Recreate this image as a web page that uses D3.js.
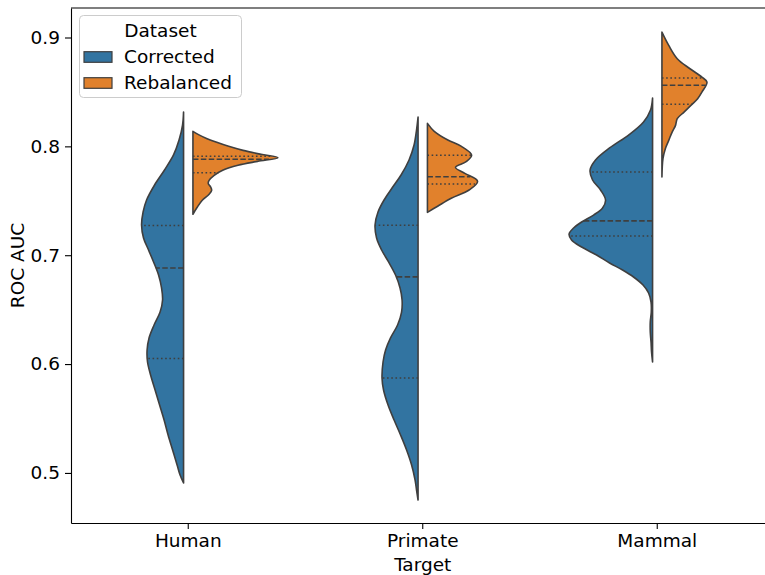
<!DOCTYPE html>
<html>
<head>
<meta charset="utf-8">
<script src="https://cdn.jsdelivr.net/npm/d3@7"></script>
<style>
  html, body { margin: 0; padding: 0; background: #fff; }
  svg { display: block; font-family: "DejaVu Sans", sans-serif; }
</style>
</head>
<body>
<svg id="chart" width="765" height="575"></svg>
<script>
// ---------- data ----------
const categories = ["Human", "Primate", "Mammal"];
const hues = ["Corrected", "Rebalanced"];
const hueColors = ["#3274a1", "#e1812c"];
const yTicks = [0.5, 0.6, 0.7, 0.8, 0.9];

// density profiles: values (ROC AUC) and relative density
const humanCorrectedValues = [0.8316, 0.8196, 0.8058, 0.7921, 0.7783, 0.7645, 0.7507, 0.7397, 0.7278, 0.7158, 0.7048, 0.6938, 0.6818, 0.6699, 0.6589, 0.6478, 0.6359, 0.624, 0.6129, 0.6019, 0.59, 0.5762, 0.5624, 0.5486, 0.5349, 0.5211, 0.5073, 0.4981, 0.4908];
const humanCorrectedDensity = [0, .012, .053, .118, .224, .341, .435, .476, .494, .471, .412, .353, .294, .259, .247, .276, .347, .406, .429, .424, .388, .335, .282, .229, .182, .129, .076, .041, 0];
const humanCorrectedQuartiles = [0.6051, 0.6883, 0.7273];

const humanRebalancedValues = [0.8138, 0.811, 0.8073, 0.8037, 0.8, 0.7963, 0.7927, 0.7896, 0.7862, 0.7826, 0.778, 0.7734, 0.7688, 0.766, 0.7624, 0.7596, 0.756, 0.7505, 0.744, 0.7376];
const humanRebalancedDensity = [0, .06, .16, .28, .42, .59, .8, 1.0, .76, .53, .35, .25, .19, .18, .21, .22, .19, .11, .05, 0];
const humanRebalancedQuartiles = [0.7758, 0.7881, 0.7909];

const primateCorrectedValues = [0.827, 0.815, 0.8012, 0.7875, 0.7737, 0.7617, 0.7507, 0.7397, 0.7278, 0.7158, 0.7048, 0.6938, 0.6818, 0.6699, 0.6589, 0.6478, 0.6359, 0.624, 0.6129, 0.6019, 0.5872, 0.5762, 0.5624, 0.5486, 0.5349, 0.5211, 0.5073, 0.4935, 0.4843, 0.4751];
const primateCorrectedDensity = [0, .018, .047, .106, .2, .306, .4, .471, .506, .488, .429, .347, .265, .212, .188, .194, .241, .324, .382, .412, .424, .406, .353, .282, .206, .135, .076, .035, .018, 0];
const primateCorrectedQuartiles = [0.5872, 0.6801, 0.7275];

const primateRebalancedValues = [0.8211, 0.8138, 0.8058, 0.8, 0.792, 0.7862, 0.7807, 0.7752, 0.7679, 0.7599, 0.7523, 0.745, 0.7394];
const primateRebalancedDensity = [0, .08, .24, .4, .52, .46, .33, .44, .59, .49, .28, .12, 0];
const primateRebalancedQuartiles = [0.7654, 0.7721, 0.7918];

const mammalCorrectedValues = [0.8444, 0.8334, 0.8224, 0.8104, 0.7985, 0.7875, 0.7783, 0.7691, 0.7599, 0.7507, 0.7434, 0.7369, 0.7305, 0.725, 0.7195, 0.714, 0.7075, 0.7002, 0.6929, 0.6864, 0.68, 0.6726, 0.6653, 0.657, 0.6478, 0.6387, 0.6295, 0.6203, 0.6111, 0.6019];
const mammalCorrectedDensity = [0, .024, .106, .282, .506, .671, .735, .706, .612, .553, .588, .694, .835, .929, .982, .953, .835, .659, .506, .353, .224, .112, .047, .018, .015, .027, .027, .018, .012, 0];
const mammalCorrectedQuartiles = [0.7177, 0.7315, 0.7764];

const mammalRebalancedValues = [0.9049, 0.8927, 0.8805, 0.8713, 0.8636, 0.859, 0.8498, 0.8438, 0.8383, 0.8315, 0.8254, 0.8193, 0.8131, 0.8055, 0.7979, 0.7887, 0.7718];
const mammalRebalancedDensity = [0, .08, .18, .33, .47, .53, .47, .42, .35, .26, .18, .16, .12, .08, .04, .012, 0];
const mammalRebalancedQuartiles = [0.8387, 0.8562, 0.8628];

const violins = [
  { cat: "Human", hue: 0, values: humanCorrectedValues, density: humanCorrectedDensity, quart: humanCorrectedQuartiles },
  { cat: "Human", hue: 1, values: humanRebalancedValues, density: humanRebalancedDensity, quart: humanRebalancedQuartiles },
  { cat: "Primate", hue: 0, values: primateCorrectedValues, density: primateCorrectedDensity, quart: primateCorrectedQuartiles },
  { cat: "Primate", hue: 1, values: primateRebalancedValues, density: primateRebalancedDensity, quart: primateRebalancedQuartiles },
  { cat: "Mammal", hue: 0, values: mammalCorrectedValues, density: mammalCorrectedDensity, quart: mammalCorrectedQuartiles },
  { cat: "Mammal", hue: 1, values: mammalRebalancedValues, density: mammalRebalancedDensity, quart: mammalRebalancedQuartiles }
];

// ---------- layout ----------
const svg = d3.select("#chart");
const plotLeft = 71, plotRight = 774.5, plotTop = 8, plotBottom = 523;
const fontSize = 18.5;
const lineColor = "#3f3f3f";

const x = d3.scaleBand().domain(categories).range([plotLeft, plotRight]).padding(0);
const y = d3.scaleLinear().domain([0.454, 0.9271]).range([plotBottom, plotTop]);
const w = d3.scaleLinear().domain([0, 1]).range([0, x.bandwidth() * 0.3625]);
const gap = x.bandwidth() * 0.02;

const plot = svg.append("g");

violins.forEach(v => {
  const cx = x(v.cat) + x.bandwidth() / 2;
  const dir = v.hue === 0 ? -1 : 1;
  const edge = cx + dir * gap;
  const pts = v.values.map((val, i) => ({ val, d: v.density[i] }));
  const area = d3.area()
    .y(p => y(p.val))
    .x0(() => edge)
    .x1(p => edge + dir * w(p.d))
    .curve(d3.curveCatmullRom.alpha(0.5));
  plot.append("path")
    .attr("d", area(pts))
    .attr("fill", hueColors[v.hue])
    .attr("stroke", lineColor)
    .attr("stroke-width", 1.6)
    .attr("stroke-linejoin", "round");

  const dens = val => {
    for (let i = 0; i < pts.length - 1; i++) {
      const a = pts[i], b = pts[i + 1];
      if (val <= a.val && val >= b.val) {
        const t = (a.val - val) / (a.val - b.val);
        return a.d + t * (b.d - a.d);
      }
    }
    return 0;
  };
  v.quart.forEach((q, qi) => {
    plot.append("line")
      .attr("x1", edge)
      .attr("x2", edge + dir * w(dens(q)))
      .attr("y1", y(q)).attr("y2", y(q))
      .attr("stroke", lineColor)
      .attr("stroke-width", 1.6)
      .attr("stroke-dasharray", qi === 1 ? "5.5,2.4" : "1.6,2.6");
  });
});

// ---------- axes ----------
const xAxis = svg.append("g")
  .attr("transform", `translate(0,${plotBottom})`)
  .call(d3.axisBottom(x).tickSize(6).tickSizeOuter(0).tickPadding(5));
const yAxis = svg.append("g")
  .attr("transform", `translate(${plotLeft},0)`)
  .call(d3.axisLeft(y).tickValues(yTicks).tickFormat(d3.format(".1f")).tickSize(6).tickSizeOuter(0).tickPadding(5));

[xAxis, yAxis].forEach(g => {
  g.selectAll("text").attr("font-size", fontSize).attr("font-family", "DejaVu Sans").attr("fill", "#000");
  g.selectAll("line").attr("stroke", "#000").attr("stroke-width", 1.1);
  g.select(".domain").attr("stroke", "#000").attr("stroke-width", 1.1);
});

// top and right spines
svg.append("line").attr("x1", plotLeft).attr("x2", plotRight).attr("y1", plotTop).attr("y2", plotTop)
  .attr("stroke", "#000").attr("stroke-width", 1.1);
svg.append("line").attr("x1", plotRight).attr("x2", plotRight).attr("y1", plotTop).attr("y2", plotBottom)
  .attr("stroke", "#000").attr("stroke-width", 1.1);

// axis labels
svg.append("text")
  .attr("x", x("Primate") + x.bandwidth() / 2)
  .attr("y", 571)
  .attr("text-anchor", "middle")
  .attr("font-size", fontSize)
  .text("Target");
svg.append("text")
  .attr("transform", `translate(24,${(plotTop + plotBottom) / 2}) rotate(-90)`)
  .attr("text-anchor", "middle")
  .attr("font-size", fontSize)
  .text("ROC AUC");

// ---------- legend ----------
const lg = svg.append("g");
lg.append("rect")
  .attr("x", 79.5).attr("y", 15.5).attr("width", 162).attr("height", 82)
  .attr("rx", 4).attr("ry", 4)
  .attr("fill", "#fff").attr("fill-opacity", 0.8)
  .attr("stroke", "#cccccc").attr("stroke-width", 1);
lg.append("text")
  .attr("x", 160.5).attr("y", 36.5)
  .attr("text-anchor", "middle")
  .attr("font-size", fontSize)
  .text("Dataset");
hues.forEach((h, i) => {
  const cy = 57 + i * 26;
  lg.append("rect")
    .attr("x", 84).attr("y", cy - 5.3).attr("width", 28).attr("height", 10.6)
    .attr("fill", hueColors[i]).attr("stroke", lineColor).attr("stroke-width", 1.2);
  lg.append("text")
    .attr("x", 124).attr("y", cy)
    .attr("dy", "0.35em")
    .attr("font-size", fontSize)
    .text(h);
});
</script>
</body>
</html>
